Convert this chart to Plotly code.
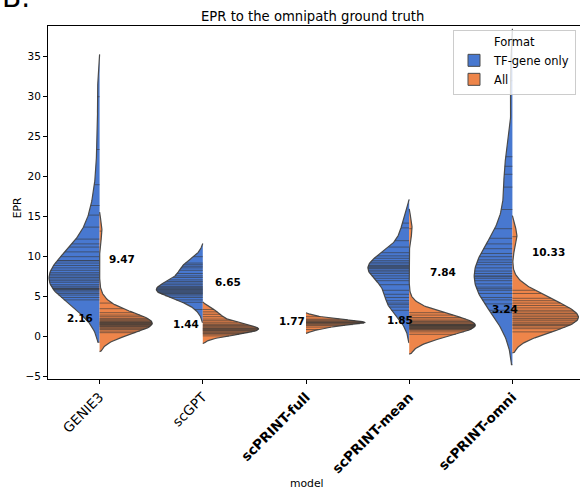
import numpy as np
import plotly.graph_objects as go

# ---------------- data ----------------
models = ["GENIE3", "scGPT", "scPRINT-full", "scPRINT-mean", "scPRINT-omni"]
bold_models = [False, False, True, True, True]
formats = ["TF-gene only", "All"]

genie3_tf = [4.6, 4.9, 5.2, 5.4, 5.6, 5.8, 5.9, 6.0, 6.0, 6.1, 6.3, 6.5, 6.8, 7.0, 7.2, 7.4,
             7.6, 7.8, 8.0, 8.3, 8.6, 8.9, 9.2, 9.5, 9.5, 10.0, 10.6, 11.2, 11.6, 12.2,
             13.7, 15.2, 16.4, 19.0, 23.4, 30.0]
genie3_all = [0.5, 0.7, 0.9, 1.0, 1.1, 1.2, 1.3, 1.3, 1.4, 1.5, 1.5, 1.6, 1.6, 1.7, 1.7,
              1.8, 1.8, 1.9, 2.0, 2.1, 2.2, 2.3, 2.5, 2.7, 3.0, 3.5, 4.2, 13.2]
scgpt_tf = [3.4, 4.3, 4.6, 4.9, 5.1, 5.3, 5.4, 5.5, 5.6, 5.7, 5.8, 5.9, 6.0, 6.1, 6.2, 6.3,
            6.5, 6.7, 6.9, 7.1, 7.4, 7.6, 7.9, 8.3, 8.6, 8.8, 9.0, 9.2, 10.0]
scgpt_all = [0.1, 0.3, 0.4, 0.5, 0.6, 0.7, 0.8, 0.8, 0.9, 1.0, 1.0, 1.1, 1.2, 1.3, 1.4, 1.5,
             1.6, 1.8, 2.0, 2.2, 2.5, 2.8, 3.1, 3.4]
full_tf = []
full_all = [0.9, 1.2, 1.4, 1.5, 1.6, 1.7, 1.7, 1.8, 1.8, 1.9, 2.0, 2.1, 2.2, 2.5]
mean_tf = [2.2, 3.3, 3.7, 4.0, 4.2, 4.5, 4.9, 5.3, 5.8, 6.5, 7.0, 7.3, 7.6, 7.9, 8.1, 8.3,
           8.5, 8.6, 8.7, 8.8, 8.9, 9.1, 9.3, 9.5, 9.8, 10.1, 10.5, 11.2, 12.0, 13.6, 14.2]
mean_all = [0.3, 0.6, 0.8, 0.9, 1.0, 1.0, 1.1, 1.1, 1.2, 1.2, 1.3, 1.3, 1.4, 1.4, 1.5, 1.5,
            1.5, 1.6, 1.7, 1.8, 1.9, 2.0, 2.2, 2.4, 2.7, 3.0, 13.5]
omni_tf = [3.0, 3.3, 4.1, 4.6, 4.9, 5.4, 5.8, 6.0, 6.2, 6.6, 7.0, 7.3, 7.5, 7.6, 7.9, 8.2,
           8.6, 9.0, 9.3, 9.6, 10.0, 10.4, 11.0, 11.6, 12.3, 13.5, 15.9, 18.7, 20.3, 21.3,
           22.5, 32.0]
omni_all = [0.6, 1.0, 1.2, 1.4, 1.5, 1.6, 1.8, 2.0, 2.2, 2.3, 2.5, 2.7, 2.9, 3.1, 3.3, 3.6,
            3.9, 4.2, 4.5, 4.8, 5.4, 5.8, 12.5]

tf_values = [genie3_tf, scgpt_tf, full_tf, mean_tf, omni_tf]
all_values = [genie3_all, scgpt_all, full_all, mean_all, omni_all]

mean_labels_tf = ["9.47", "6.65", None, "7.84", "10.33"]
mean_labels_all = ["2.16", "1.44", "1.77", "1.85", "3.24"]

# ---------------- style ----------------
colors = {"TF-gene only": "#4878d0", "All": "#ee854a"}
edge = "#4a4a4a"
half_width_tf = [0.49, 0.45, 0.0, 0.40, 0.37]
half_width_all = [0.51, 0.54, 0.57, 0.64, 0.64]
label_dx_tf = [0.22, 0.24, 0.0, 0.33, 0.35]
label_dx_all = [-0.19, -0.16, -0.14, -0.09, -0.07]
FONT = "DejaVu Sans"


def kde(vals):
    v = np.asarray(vals, dtype=float)
    n = len(v)
    bw = v.std(ddof=1) * n ** (-0.2)
    grid = np.linspace(v.min() - 2 * bw, v.max() + 2 * bw, 200)
    dens = np.exp(-0.5 * ((grid[:, None] - v[None, :]) / bw) ** 2).sum(axis=1)
    at = np.exp(-0.5 * ((v[:, None] - v[None, :]) / bw) ** 2).sum(axis=1)
    m = dens.max()
    return grid, dens / m, at / m


fig = go.Figure()
for i, m in enumerate(models):
    for fmt, vals, hw, side in (("TF-gene only", tf_values[i], half_width_tf[i], -1),
                                ("All", all_values[i], half_width_all[i], 1)):
        if len(vals) == 0:
            continue
        grid, d, at = kde(vals)
        xs = np.concatenate([[i], i + side * hw * d, [i]])
        ys = np.concatenate([[grid[0]], grid, [grid[-1]]])
        fig.add_trace(go.Scatter(
            x=xs, y=ys, mode="lines", fill="toself", fillcolor=colors[fmt],
            line=dict(color=edge, width=1.2), name=fmt, legendgroup=fmt,
            showlegend=False, hoverinfo="skip"))
        sx, sy = [], []
        for v, a in zip(vals, at):
            sx += [i, i + side * hw * a, None]
            sy += [v, v, None]
        fig.add_trace(go.Scatter(
            x=sx, y=sy, mode="lines", line=dict(color="rgba(55,55,55,0.7)", width=0.85),
            showlegend=False, hoverinfo="skip", legendgroup=fmt))

# legend-only entries (filled patches with dark edge)
for fmt in formats:
    fig.add_trace(go.Bar(x=[None], y=[None], name=fmt, marker=dict(
        color=colors[fmt], line=dict(color=edge, width=1)), legendgroup=fmt))

annotations = []
for i in range(len(models)):
    for lab, dx in ((mean_labels_tf[i], label_dx_tf[i]), (mean_labels_all[i], label_dx_all[i])):
        if lab is None:
            continue
        annotations.append(dict(x=i + dx, y=float(lab) + 0.2, xref="x", yref="y",
                                text="<b>" + lab + "</b>", showarrow=False,
                                font=dict(family=FONT, size=10.5, color="black"),
                                xanchor="center", yanchor="middle"))

annotations += [
    dict(text="EPR to the omnipath ground truth", x=0.498, y=1.028, xref="paper", yref="paper",
         showarrow=False, xanchor="center", yanchor="middle",
         font=dict(family=FONT, size=13.2, color="black")),
    dict(text="model", x=0.487, y=-0.295, xref="paper", yref="paper", showarrow=False,
         xanchor="center", yanchor="middle", font=dict(family=FONT, size=10.8, color="black")),
    dict(text="EPR", x=-0.058, y=0.484, xref="paper", yref="paper", showarrow=False,
         textangle=-90, xanchor="center", yanchor="middle",
         font=dict(family=FONT, size=10.8, color="black")),
    dict(text="B.", x=-0.0902, y=1.082, xref="paper", yref="paper", showarrow=False,
         xanchor="left", yanchor="middle", font=dict(family=FONT, size=28, color="black")),
]

ticktext = [("<b>%s</b>" % m) if b else m for m, b in zip(models, bold_models)]

fig.update_layout(
    width=580, height=490,
    margin=dict(l=48, r=0, t=26, b=111),
    plot_bgcolor="white", paper_bgcolor="white",
    font=dict(family=FONT, color="black"),
    annotations=annotations,
    showlegend=True,
    barmode="overlay",
    legend=dict(title=dict(text="Format", side="top center", font=dict(size=11.5)),
                font=dict(family=FONT, size=11.5, color="black"),
                x=0.9925, y=0.989, xanchor="right", yanchor="top",
                bgcolor="rgba(255,255,255,0.8)", bordercolor="#cccccc", borderwidth=1,
                tracegroupgap=0, itemwidth=30),
)
fig.update_xaxes(range=[-0.5, 4.655], tickvals=list(range(len(models))), ticktext=ticktext,
                 tickangle=-45, ticks="outside", ticklen=4, tickcolor="black",
                 showline=True, mirror=True, linecolor="black", linewidth=1,
                 showgrid=False, zeroline=False, tickfont=dict(family=FONT, size=13.5))
fig.update_yaxes(range=[-5.29, 38.84], tickvals=list(range(-5, 40, 5)),
                 ticks="outside", ticklen=4, tickcolor="black",
                 showline=True, mirror=True, linecolor="black", linewidth=1,
                 showgrid=False, zeroline=False, tickfont=dict(family=FONT, size=10.5))

fig.write_html("out.html")
